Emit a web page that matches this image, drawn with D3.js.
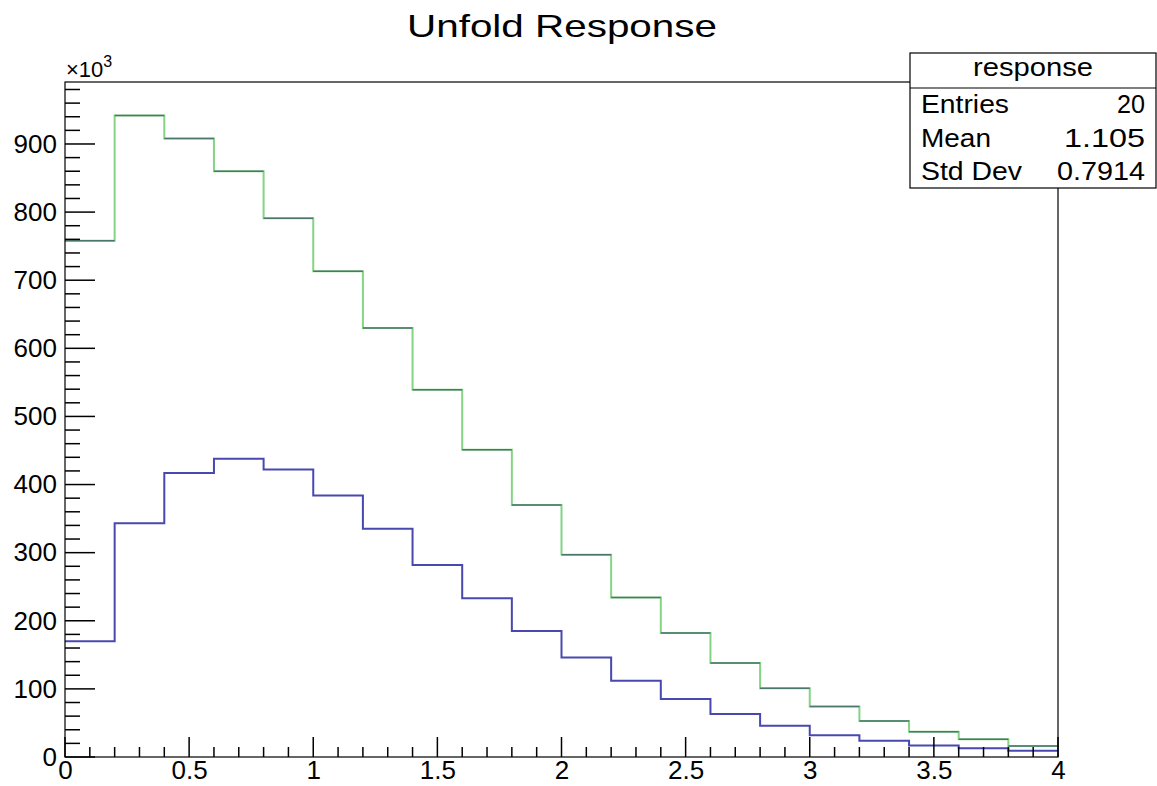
<!DOCTYPE html>
<html><head><meta charset="utf-8">
<script src="https://cdn.jsdelivr.net/npm/d3@7"></script>
<style>body{margin:0;background:#fff;} text{font-family:"Liberation Sans",Arial,sans-serif;}</style>
</head><body>
<svg id="c" width="1157" height="786"></svg>
<script>
const binEdges = [0,0.2,0.4,0.6,0.8,1.0,1.2,1.4,1.6,1.8,2.0,2.2,2.4,2.6,2.8,3.0,3.2,3.4,3.6,3.8,4.0];
const responseTruth = [758,942,908,860,791,713,630,539,451,370,297,234,182,138,101,74,53,37,26,16];
const responseMeas = [170,343,417,438,422,384,335,282,233,185,146,112,85,63,46,32,24,17,13,9];
const xTicks = [0,0.5,1,1.5,2,2.5,3,3.5,4];
const yTicks = [0,100,200,300,400,500,600,700,800,900];
const statsRows = [["Entries","20"],["Mean","1.105"],["Std Dev","0.7914"]];

const svg = d3.select("#c");
const L=65, R=1058, T=82, B=757;
const x = d3.scaleLinear().domain([0,4]).range([L,R]);
const y = d3.scaleLinear().domain([0,991]).range([B,T]);

// title
svg.append("text").attr("x",562).attr("y",37).attr("text-anchor","middle")
  .attr("font-size",32).attr("textLength",310).attr("lengthAdjust","spacingAndGlyphs")
  .text("Unfold Response");

function stepPath(vals){
  let p = d3.path();
  p.moveTo(x(binEdges[0]), y(vals[0]));
  vals.forEach((v,i)=>{
    if(i>0) p.lineTo(x(binEdges[i]), y(v));
    p.lineTo(x(binEdges[i+1]), y(v));
  });
  return p.toString();
}

// green histogram
svg.append("path").attr("d",stepPath(responseTruth)).attr("fill","none")
  .attr("stroke","#84d484").attr("stroke-width",2);
// dark overlay horizontal segments
svg.append("g").selectAll("line").data(responseTruth).join("line")
  .attr("x1",(d,i)=>x(binEdges[i])).attr("x2",(d,i)=>x(binEdges[i+1]))
  .attr("y1",d=>y(d)).attr("y2",d=>y(d))
  .attr("stroke","#1c2a5a").attr("stroke-opacity",0.55).attr("stroke-width",1.5);
// blue histogram
svg.append("path").attr("d",stepPath(responseMeas)).attr("fill","none")
  .attr("stroke","#4848b0").attr("stroke-width",2);

// frame
svg.append("rect").attr("x",L).attr("y",T).attr("width",R-L).attr("height",B-T)
  .attr("fill","none").attr("stroke","#000").attr("stroke-width",1.2);

// y axis ticks
const yMinor = d3.range(0,991,20);
svg.append("g").selectAll("line").data(yMinor).join("line")
  .attr("x1",L).attr("x2",d=>d%100===0?L+30:L+15)
  .attr("y1",d=>y(d)).attr("y2",d=>y(d)).attr("stroke","#000").attr("stroke-width",1.5);
const yAxis = d3.axisLeft(y).tickValues(yTicks).tickSize(0).tickPadding(8).tickFormat(d3.format("d"));
const ga = svg.append("g").attr("transform",`translate(${L},0)`).call(yAxis);
ga.select(".domain").remove();
ga.selectAll("text").attr("font-size",26).attr("font-family","Liberation Sans, Arial, sans-serif").attr("fill","#000");

// x axis ticks
const xMinor = d3.range(0,41).map(i=>i/10);
svg.append("g").selectAll("line").data(xMinor).join("line")
  .attr("x1",d=>x(d)).attr("x2",d=>x(d))
  .attr("y1",B).attr("y2",(d,i)=>i%5===0?B-20:B-10).attr("stroke","#000").attr("stroke-width",1.5);
const xAxis = d3.axisBottom(x).tickValues(xTicks).tickSize(0).tickPadding(4).tickFormat(d=>String(d));
const gx = svg.append("g").attr("transform",`translate(0,${B})`).call(xAxis);
gx.select(".domain").remove();
gx.selectAll("text").attr("font-size",26).attr("font-family","Liberation Sans, Arial, sans-serif").attr("fill","#000");

// x10^3
const mul = svg.append("text").attr("x",66).attr("y",77).attr("font-size",22);
mul.append("tspan").text("×10");
mul.append("tspan").attr("dy",-10).attr("font-size",16).text("3");

// stats box
const sx=910, sy=53, sw=246, sh=135, hh=35;
svg.append("rect").attr("x",sx).attr("y",sy).attr("width",sw).attr("height",sh)
  .attr("fill","#fff").attr("stroke","#000").attr("stroke-width",1.2);
svg.append("line").attr("x1",sx).attr("x2",sx+sw).attr("y1",sy+hh).attr("y2",sy+hh)
  .attr("stroke","#000").attr("stroke-width",1.2);
svg.append("text").attr("x",sx+sw/2).attr("y",76).attr("text-anchor","middle")
  .attr("font-size",25).attr("textLength",120).attr("lengthAdjust","spacingAndGlyphs").text("response");
const labW = [88,70,101], valW = [28,81,88];
statsRows.forEach((r,i)=>{
  const yy = 113 + i*33.5;
  svg.append("text").attr("x",921).attr("y",yy).attr("font-size",25)
    .attr("textLength",labW[i]).attr("lengthAdjust","spacingAndGlyphs").text(r[0]);
  svg.append("text").attr("x",1145).attr("y",yy).attr("text-anchor","end").attr("font-size",25)
    .attr("textLength",valW[i]).attr("lengthAdjust","spacingAndGlyphs").text(r[1]);
});
</script>
</body></html>
